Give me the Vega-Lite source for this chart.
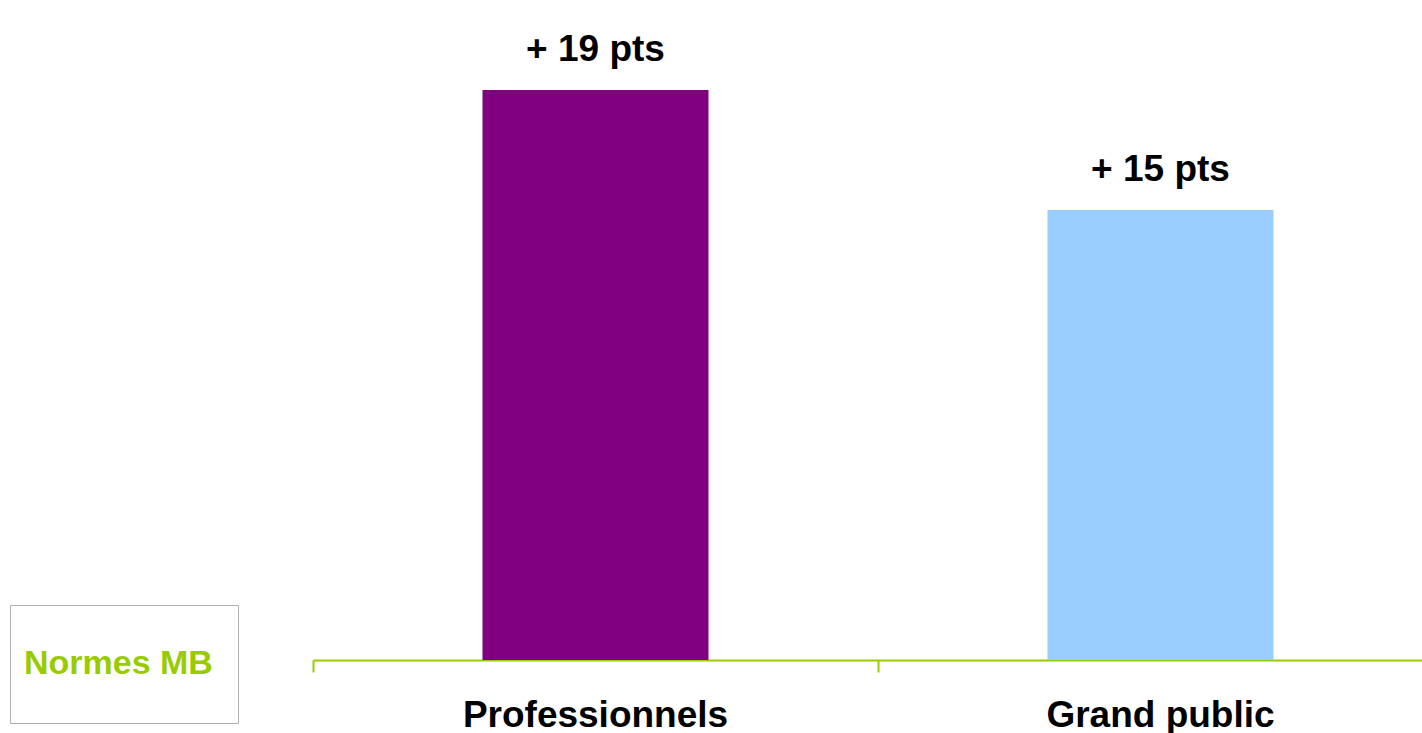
{
  "$schema": "https://vega.github.io/schema/vega-lite/v6.json",
  "width": 1109,
  "height": 600,
  "autosize": {"type": "none"},
  "padding": {"left": 313, "top": 60, "right": 0, "bottom": 73},
  "background": "white",
  "config": {"view": {"stroke": null}, "font": "Liberation Sans"},
  "data": {
    "values": [
      {"category": "Professionnels", "value": 19, "label": "+ 19 pts"},
      {"category": "Grand public", "value": 15, "label": "+ 15 pts"}
    ]
  },
  "encoding": {
    "x": {
      "field": "category",
      "type": "nominal",
      "sort": ["Professionnels", "Grand public"],
      "scale": {"range": [0, 1130], "paddingInner": 0, "paddingOuter": 0},
      "axis": {
        "title": null,
        "bandPosition": 0,
        "domainColor": "#99CC00",
        "domainWidth": 2,
        "tickColor": "#99CC00",
        "tickWidth": 2,
        "tickSize": 12,
        "labelAngle": 0,
        "labelLimit": 0,
        "labelPadding": 25,
        "labelFontSize": 37,
        "labelFontWeight": "bold",
        "labelColor": "#000000",
        "labelFont": "Liberation Sans",
        "grid": false
      }
    },
    "y": {
      "field": "value",
      "type": "quantitative",
      "scale": {"domain": [0, 20]},
      "axis": null
    }
  },
  "layer": [
    {
      "mark": {"type": "bar", "width": {"band": 0.4}},
      "encoding": {
        "color": {
          "field": "category",
          "type": "nominal",
          "scale": {"domain": ["Professionnels", "Grand public"], "range": ["#800080", "#99CCFF"]},
          "legend": {
            "orient": "none",
            "legendX": -303,
            "legendY": 545,
            "title": null,
            "values": ["Professionnels"],
            "labelExpr": "['', 'Normes MB  \u200b', '']",
            "labelBaseline": "middle",
            "labelFontSize": 34,
            "labelFontWeight": "bold",
            "labelColor": "#99CC00",
            "labelFont": "Liberation Sans",
            "labelLimit": 0,
            "labelOffset": -26,
            "symbolSize": 0,
            "symbolOpacity": 0,
            "symbolStrokeWidth": 0,
            "padding": 6,
            "strokeColor": "#B0B0B0",
            "fillColor": "white"
          }
        }
      }
    },
    {
      "mark": {"type": "text", "baseline": "alphabetic", "dy": -29, "fontSize": 37, "fontWeight": "bold", "color": "#000000", "font": "Liberation Sans"},
      "encoding": {"text": {"field": "label"}}
    }
  ]
}
